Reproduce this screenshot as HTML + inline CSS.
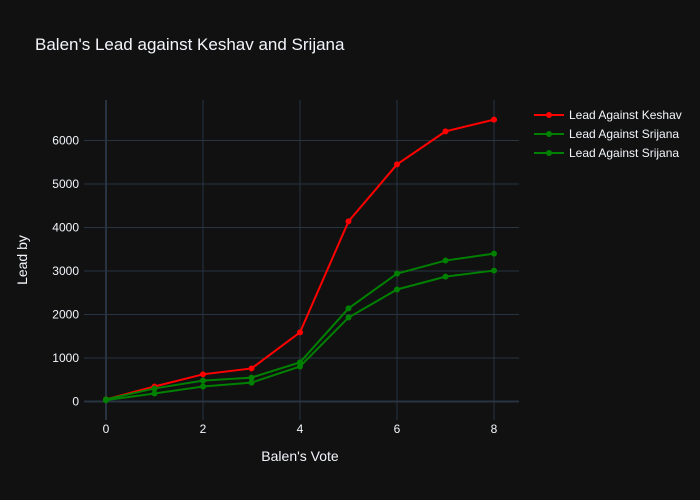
<!DOCTYPE html>
<html><head><meta charset="utf-8"><style>
body{margin:0;background:#111111;}
svg{display:block;font-family:"Liberation Sans",sans-serif;}
</style></head><body>
<svg id="chart" width="700" height="500">
<rect width="700" height="500" fill="#111111"/>
<text x="35" y="50" fill="#f2f5fa" font-size="17">Balen's Lead against Keshav and Srijana</text>
<g id="grid"></g><g id="series"></g><g id="legend"></g>
<text x="300" y="461" fill="#f2f5fa" font-size="14" text-anchor="middle">Balen's Vote</text>
<text x="27" y="260" fill="#f2f5fa" font-size="14" text-anchor="middle" transform="rotate(-90 27 260)">Lead by</text>
</svg>
<script>
const xVals=[0,1,2,3,4,5,6,7,8];
const keshav=[50,345,625,760,1590,4140,5450,6210,6480];
const srijanaA=[50,300,480,550,900,2140,2940,3240,3400];
const srijanaB=[30,185,345,435,805,1930,2575,2870,3010];
const xTicks=[0,2,4,6,8];
const yTicks=[0,1000,2000,3000,4000,5000,6000];
const seriesNames=["Lead Against Keshav","Lead Against Srijana","Lead Against Srijana"];
const NS="http://www.w3.org/2000/svg";
const L=84,R=519,T=100,B=420;
const xs=v=>106+v*48.5;
const ys=v=>401.5-v*0.0435;
function mk(tag,attrs,parent){const e=document.createElementNS(NS,tag);for(const k in attrs)e.setAttribute(k,attrs[k]);parent.appendChild(e);return e;}
const grid=document.getElementById('grid');
yTicks.forEach(t=>{
  const l=mk('line',{x1:L,x2:R,y1:ys(t),y2:ys(t),stroke:'#283442','stroke-width':t===0?2:1},grid);
  
  
  const tx=mk('text',{x:79,y:ys(t)+4,fill:'#f2f5fa','font-size':12,'text-anchor':'end'},grid);
  tx.textContent=t;
  
  
});
xTicks.forEach(t=>{
  const l=mk('line',{x1:xs(t),x2:xs(t),y1:T,y2:B,stroke:'#283442','stroke-width':t===0?2:1},grid);
  
  
  const tx=mk('text',{x:xs(t),y:433,fill:'#f2f5fa','font-size':12,'text-anchor':'middle'},grid);
  tx.textContent=t;
  
  
});
const ser=document.getElementById('series');
const all=[[keshav,'#ff0000'],[srijanaA,'#008000'],[srijanaB,'#008000']];
all.forEach(([d,c],i)=>{
  const g=mk('g',{},ser);
  
  
  const p=mk('polyline',{points:xVals.map((x,j)=>xs(x)+','+ys(d[j])).join(' '),fill:'none',stroke:c,'stroke-width':2},g);
  
  
  xVals.forEach((x,j)=>{
    const m=mk('circle',{cx:xs(x),cy:ys(d[j]),r:3,fill:c},g);
    
    
  });
});
const leg=document.getElementById('legend');
all.forEach(([d,c],i)=>{
  const y=115+i*19;
  const g=mk('g',{},leg);
  
  
  mk('line',{x1:534,x2:564,y1:y,y2:y,stroke:c,'stroke-width':2},g);
  mk('circle',{cx:549,cy:y,r:3,fill:c},g);
  const t=mk('text',{x:569,y:y+4,fill:'#f2f5fa','font-size':12},g);
  t.textContent=seriesNames[i];
});
</script>
</body></html>
